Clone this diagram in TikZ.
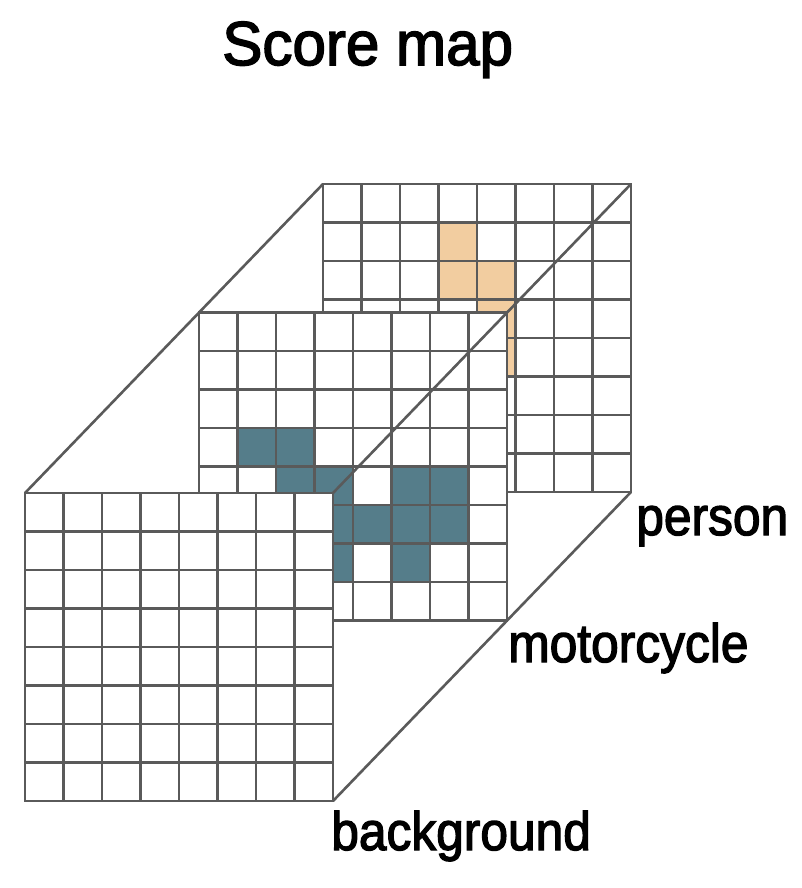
\documentclass[tikz,border=0pt]{standalone}
\usepackage{fontspec}
\setmainfont{Liberation Sans}[BoldFont=Liberation Sans, BoldFeatures={FakeBold=2.5}]
\definecolor{gridgray}{HTML}{5A5A5A}
\definecolor{personcell}{HTML}{F2CDA0}
\definecolor{motocell}{HTML}{557D8A}
\begin{document}
\begin{tikzpicture}[x=1pt, y=-1pt, line width=2.6pt, line cap=rect,
  gridline/.style={draw=gridgray},
  layerlabel/.style={anchor=base west, inner sep=0pt, font=\fontsize{54}{60}\selectfont\bfseries}]
\useasboundingbox (0,0) rectangle (802,888);
% 1. back layer: person
\coordinate (pTL) at (323,184);
\coordinate (pTR) at (631,184);
\coordinate (pBR) at (631,492);
\begin{scope}[shift={(pTL)}]
  \fill[white] (0,0) rectangle (308,308);
  \foreach \c/\r in {3/1, 3/2, 4/2, 4/3, 4/4}
    \fill[personcell] (\c*38.5,\r*38.5) rectangle ++(38.5,38.5);
  \foreach \i in {0,...,8} {
    \draw[gridline] (\i*38.5,0) -- (\i*38.5,308);
    \draw[gridline] (0,\i*38.5) -- (308,\i*38.5);
  }
\end{scope}

% 2. middle layer: motorcycle
\coordinate (mTL) at (199,312.6);
\begin{scope}[shift={(mTL)}]
  \fill[white] (0,0) rectangle (308,308);
  \foreach \c/\r in {1/3, 2/3, 2/4, 3/4, 5/4, 6/4, 3/5, 4/5, 5/5, 6/5, 3/6, 5/6}
    \fill[motocell] (\c*38.5,\r*38.5) rectangle ++(38.5,38.5);
  \foreach \i in {0,...,8} {
    \draw[gridline] (\i*38.5,0) -- (\i*38.5,308);
    \draw[gridline] (0,\i*38.5) -- (308,\i*38.5);
  }
\end{scope}

% 3. front layer: background
\coordinate (fTL) at (25,493);
\coordinate (fTR) at (333,493);
\coordinate (fBR) at (333,801);
\begin{scope}[shift={(fTL)}]
  \fill[white] (0,0) rectangle (308,308);
  \foreach \i in {0,...,8} {
    \draw[gridline] (\i*38.5,0) -- (\i*38.5,308);
    \draw[gridline] (0,\i*38.5) -- (308,\i*38.5);
  }
\end{scope}

% 4. edges of the stack
\draw[gridline, line cap=butt] (fTL) -- (pTL);
\draw[gridline, line cap=butt] (fTR) -- (pTR);
\draw[gridline, line cap=butt] (fBR) -- (pBR);

% 5. title and layer names
\node[anchor=base west, inner sep=0pt, font=\fontsize{62}{70}\selectfont\bfseries] (title) at (221,65) {\scalebox{0.97}[1]{Score map}};
\node[layerlabel] (personname) at (635,535) {\scalebox{0.92}[1]{person}};
\node[layerlabel] (motoname) at (507,662) {\scalebox{0.92}[1]{motorcycle}};
\node[layerlabel] (bgname) at (330,850) {\scalebox{0.92}[1]{background}};
\end{tikzpicture}
\end{document}
